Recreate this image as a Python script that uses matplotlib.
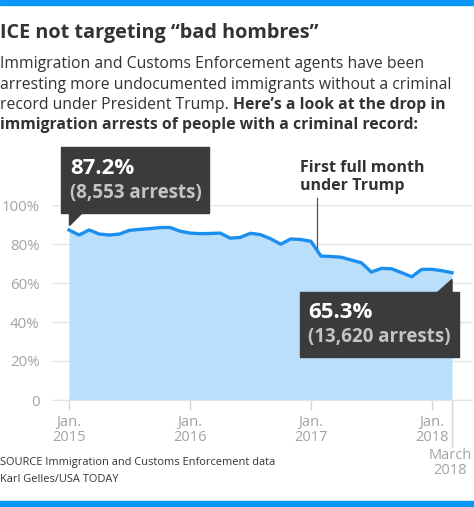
import matplotlib
matplotlib.use("Agg")
import matplotlib.pyplot as plt
from matplotlib.patches import Rectangle, Polygon
from matplotlib.text import Annotation
import numpy as np

# share of ICE arrests with a criminal record, monthly Jan 2015 - Mar 2018
pct = [87.2, 84.6, 87.2, 85.1, 84.6, 85.1, 87.0, 87.5, 87.9, 88.4, 88.5, 86.6,
       85.6, 85.3, 85.4, 85.6, 83.0, 83.4, 85.5, 84.8, 82.7, 79.9, 82.6, 82.3,
       81.4, 73.8, 73.6, 73.2, 71.8, 70.4, 65.6, 67.5, 67.3, 65.3, 63.2, 67.0,
       67.0, 66.3, 65.3]
month = np.arange(len(pct))
year_ticks = [0, 12, 24, 36]
year_labels = ["Jan.\n2015", "Jan.\n2016", "Jan.\n2017", "Jan.\n2018"]
y_ticks = [0, 20, 40, 60, 80, 100]
y_labels = ["0", "20%", "40%", "60%", "80%", "100%"]
first_label = ("87.2%", "(8,553 arrests)")
last_label = ("65.3%", "(13,620 arrests)")
trump_month = 25

W, H = 474, 507
BLUE = "#0a97f5"
DARK = "#333333"
GRAY = "#a3a3a3"
FONT = "Open Sans"

plt.rcParams["font.family"] = [FONT, "DejaVu Sans"]

fig = plt.figure(figsize=(W / 100, H / 100), dpi=100)


def fx(px):
    return px / W


def fy(py):
    return 1 - py / H


# blue bars top & bottom
fig.patches.append(Rectangle((0, fy(5)), 1, 5 / H, transform=fig.transFigure,
                             color=BLUE, zorder=0))
fig.patches.append(Rectangle((0, 0), 1, 6 / H, transform=fig.transFigure,
                             color=BLUE, zorder=0))

# title and intro
fig.text(fx(0), fy(33), "ICE not targeting \u201cbad hombres\u201d", fontsize=14.3,
         fontweight="bold", color=DARK, va="center", ha="left")
sub = dict(fontsize=11.3, color=DARK, va="bottom")
fig.text(fx(0), fy(72), "Immigration and Customs Enforcement agents have been",
         ha="left", **sub)
fig.text(fx(0), fy(93), "arresting more undocumented immigrants without a criminal",
         ha="left", **sub)
t3 = fig.text(fx(0), fy(113), "record under President Trump. ", ha="left", **sub)
fig.text(fx(0), fy(133), "immigration arrests of people with a criminal record:",
         fontweight="bold", ha="left", **sub)
fig.add_artist(Annotation("Here\u2019s a look at the drop in", xy=(1, 0), xycoords=t3,
                          fontweight="bold", ha="left", **sub))

# chart
ax = fig.add_axes([fx(52), fy(400), fx(472) - fx(52), fy(205) - fy(400)])
px_per_month = (432 - 69) / 36
ax.set_xlim(-(69 - 52) / px_per_month, 38 + (472 - 452) / px_per_month)
ax.set_ylim(0, 100)

ax.fill_between(month, 0, pct, color="#b9dffb", lw=0, zorder=1)
ax.plot(month, pct, color="#1b8ff0", lw=2.4, solid_joinstyle="round", zorder=3)

ax.set_yticks(y_ticks)
ax.set_yticklabels(y_labels)
ax.grid(axis="y", color="#e4e4e4", lw=1)
ax.set_axisbelow(True)
ax.tick_params(axis="y", length=0, pad=9, labelsize=10.8, labelcolor=GRAY)
ax.set_xticks(year_ticks)
ax.set_xticklabels(year_labels)
ax.tick_params(axis="x", length=7, width=1, color="#d5d5d5", pad=4,
               labelsize=10.5, labelcolor=GRAY)
for lab in ax.get_xticklabels():
    lab.set_linespacing(1.0)
for s in ["top", "right", "left"]:
    ax.spines[s].set_visible(False)
ax.spines["bottom"].set_color("#e4e4e4")

# March 2018 marker
pct_unit = 1.95  # px per percent
ax.plot([38, 38], [0, -47 / pct_unit], color="#d5d5d5", lw=1, clip_on=False, zorder=2)
ax.text(37.8, -48 / pct_unit, "March\n2018", ha="center", va="top", fontsize=10.5,
        color=GRAY, linespacing=1.0)

# first full month under Trump
ax.plot([trump_month - 0.4, trump_month - 0.4], [pct[trump_month] + 4, 103.5],
        color="#555555", lw=0.9, zorder=4, clip_on=False)
ax.text(22.9, (400 - 160) / pct_unit, "First full month\nunder Trump", fontsize=11.5,
        fontweight="bold", color=DARK, ha="left", va="top", linespacing=1.15)

# callout boxes
BOX = "#3b3b3b"
ax.add_patch(Rectangle((-0.79, (400 - 213) / pct_unit), 14.67, 66 / pct_unit,
                       color=BOX, clip_on=False, zorder=5))
ax.add_patch(Polygon([(0, pct[0] + 2.5), (0, (400 - 212) / pct_unit),
                      (1.3, (400 - 212) / pct_unit)],
                     color=BOX, clip_on=False, zorder=5))
ax.text(0.1, (400 - 168) / pct_unit, first_label[0], fontsize=16, fontweight="bold",
        color="white", va="center", zorder=6)
ax.text(0.1, (400 - 193) / pct_unit, first_label[1], fontsize=13.5, fontweight="bold",
        color="#c4c4c4", va="center", zorder=6)

ax.add_patch(Rectangle((22.9, (400 - 357) / pct_unit), 15.8, 65 / pct_unit,
                       color=BOX, clip_on=False, zorder=5))
ax.add_patch(Polygon([(36.5, (400 - 293) / pct_unit), (38, pct[-1] - 3.5),
                      (38, (400 - 293) / pct_unit)],
                     color=BOX, clip_on=False, zorder=5))
ax.text(23.7, (400 - 312) / pct_unit, last_label[0], fontsize=16, fontweight="bold",
        color="white", va="center", zorder=6)
ax.text(23.7, (400 - 337) / pct_unit, last_label[1], fontsize=13.5, fontweight="bold",
        color="#c4c4c4", va="center", zorder=6)

# source
fig.text(fx(0), fy(462), "SOURCE Immigration and Customs Enforcement data",
         fontsize=7.9, color=DARK, va="center")
fig.text(fx(0), fy(480), "Karl Gelles/USA TODAY", fontsize=7.9, color=DARK, va="center")

fig.savefig("out.png", dpi=100)
